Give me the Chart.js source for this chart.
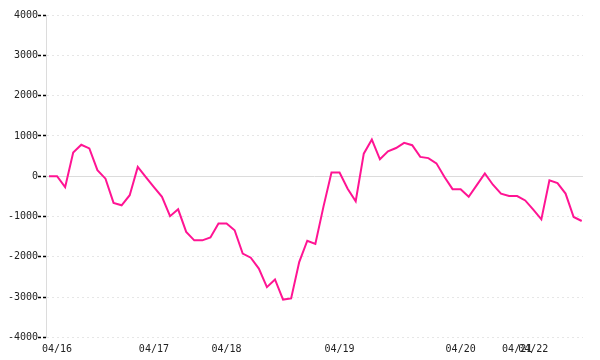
<!DOCTYPE html>
<html>
<head>
<meta charset="utf-8">
<script src="https://cdn.jsdelivr.net/npm/chart.js@4"></script>
<style>
  html, body { margin: 0; padding: 0; background: #fff; }
  #wrap { width: 600px; height: 360px; }
</style>
</head>
<body>
<div id="wrap"><canvas id="chart" width="600" height="360"></canvas></div>
<script>
// series values, one per sample (evenly spaced)
const values = [
  0, 0, -270, 590, 780, 690, 150, -60, -660, -720,
  -470, 230, -20, -270, -510, -990, -820, -1380, -1590, -1590,
  -1520, -1170, -1170, -1340, -1920, -2020, -2290, -2750, -2560, -3060,
  -3030, -2130, -1600, -1680, -760, 90, 90, -310, -620, 560,
  910, 420, 620, 700, 830, 770, 480, 450, 320, -20,
  -320, -320, -510, -220, 70, -210, -430, -490, -490, -600,
  -830, -1070, -100, -170, -430, -1010, -1110
];

// day labels and the sample index where each day starts
const tickLabels = ['04/16', '04/17', '04/18', '04/19', '04/20', '04/21', '04/22'];
const tickIdx = [1, 13, 22, 36, 51, 58, 60];

const yTicks = [-4000, -3000, -2000, -1000, 0, 1000, 2000, 3000, 4000];

const FONT = { family: '"DejaVu Sans Mono", monospace', size: 10 };

// zero line is solid, the rest of the grid dotted
const zeroLine = {
  id: 'zeroLine',
  beforeDatasetsDraw(chart) {
    const { ctx, chartArea, scales } = chart;
    const y = Math.round(scales.y.getPixelForValue(0)) + 0.5;
    ctx.save();
    ctx.strokeStyle = '#dcdcdc';
    ctx.lineWidth = 1;
    ctx.beginPath();
    ctx.moveTo(chartArea.left, y);
    ctx.lineTo(chartArea.right, y);
    ctx.stroke();
    ctx.restore();
  }
};

new Chart(document.getElementById('chart'), {
  type: 'line',
  data: {
    datasets: [{
      data: values.map((v, i) => ({ x: i, y: v })),
      borderColor: '#ff1493',
      borderWidth: 2,
      pointRadius: 0,
      tension: 0,
      fill: false
    }]
  },
  options: {
    responsive: false,
    animation: false,
    layout: { padding: { top: 15, right: 17, left: 0, bottom: 0 } },
    plugins: { legend: { display: false }, tooltip: { enabled: false } },
    scales: {
      x: {
        type: 'linear',
        min: -0.37,
        max: 66.16,
        afterBuildTicks: (scale) => { scale.ticks = tickIdx.map(v => ({ value: v })); },
        afterFit: (scale) => { scale.height = 22.5; },
        grid: { display: false, drawTicks: false },
        border: { display: false },
        ticks: {
          autoSkip: false,
          maxRotation: 0,
          padding: 6,
          color: '#222',
          font: FONT,
          callback: (v) => tickLabels[tickIdx.indexOf(v)]
        }
      },
      y: {
        min: -4000,
        max: 4000,
        afterBuildTicks: (scale) => { scale.ticks = yTicks.map(v => ({ value: v })); },
        afterFit: (scale) => { scale.width = 46; },
        grid: {
          color: (c) => (c.tick && c.tick.value === 0) ? 'rgba(0,0,0,0)' : '#e6e6e6',
          lineWidth: 1,
          tickColor: '#000',
          tickLength: 8,
          tickWidth: 1.5,
          tickBorderDash: [3, 2]
        },
        border: { display: true, color: '#dcdcdc', width: 1, dash: [2, 3] },
        ticks: {
          padding: 0,
          color: '#222',
          font: FONT,
          callback: (v) => String(v)
        }
      }
    }
  },
  plugins: [zeroLine]
});
</script>
</body>
</html>
